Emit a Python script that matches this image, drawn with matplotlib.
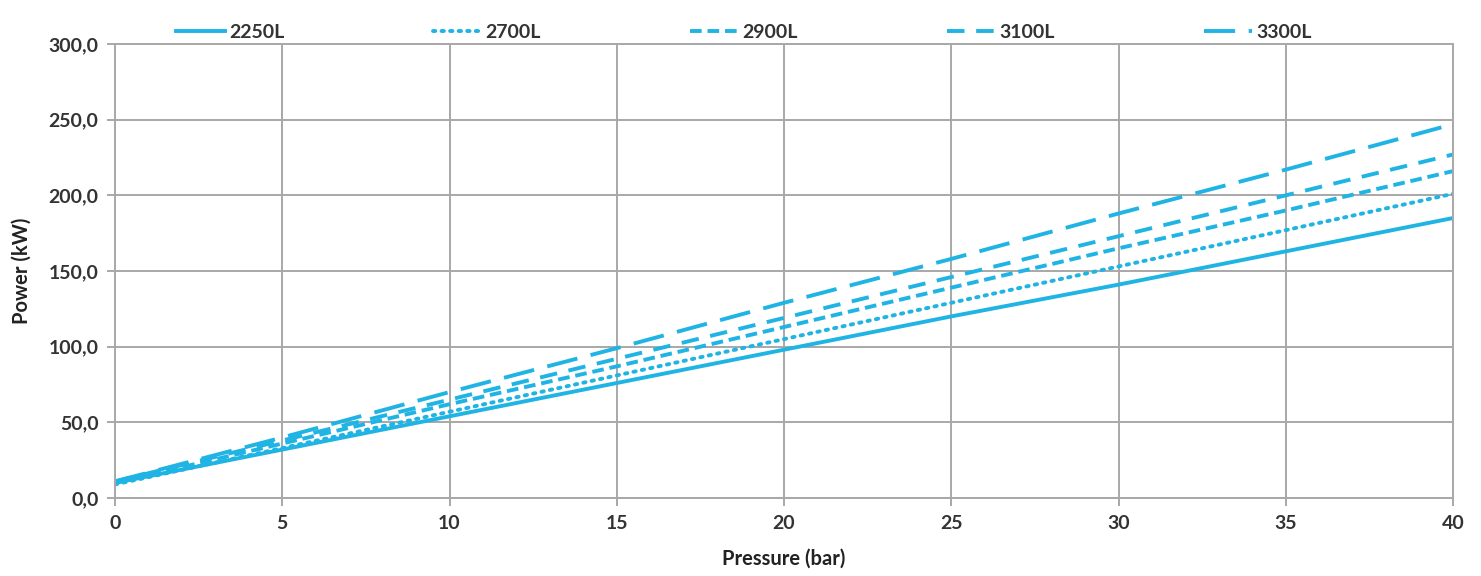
import numpy as np
import matplotlib.pyplot as plt
from matplotlib.ticker import FuncFormatter

# Datos (kW vs bar)
pressure = [0, 5, 10, 15, 20, 25, 30, 35, 40]
p_2250 = [10, 32, 54, 76, 98, 120, 141, 163, 185]
p_2700 = [9, 33, 57, 81, 105, 129, 153, 177, 201]
p_2900 = [10, 36, 62, 87, 113, 139, 165, 190, 216]
p_3100 = [11, 38, 65, 92, 119, 146, 173, 200, 227]
p_3300 = [11, 40, 70, 99, 129, 158, 188, 217, 247]
labels = ['2250L', '2700L', '2900L', '3100L', '3300L']

color = '#1fb4e4'
grid_c = '#a8a8a8'
plt.rcParams['font.family'] = ['Lato', 'DejaVu Sans']

fig = plt.figure(figsize=(14.81, 5.76), dpi=100)
ax = fig.add_axes([0.0777, 0.1354, 0.9034, 0.7882])

series = [p_2250, p_2700, p_2900, p_3100, p_3300]
styles = ['-', (0, (0.6, 1.6)), (0, (3, 1.5)), (0, (4.5, 3)), (0, (8, 3.5))]
for vals, lab, ls in zip(series, labels, styles):
    ax.plot(pressure, vals, color=color, lw=2.8, linestyle=ls, label=lab,
            dash_capstyle='round' if lab == '2700L' else 'butt')

ax.set_xlim(0, 40)
ax.set_ylim(0, 300)
ax.set_xticks(np.arange(0, 41, 5))
ax.set_yticks(np.arange(0, 301, 50))
ax.yaxis.set_major_formatter(FuncFormatter(lambda v, p: f'{v:.1f}'.replace('.', ',')))
ax.grid(True, color=grid_c, lw=1.4)
ax.set_axisbelow(True)
for s in ax.spines.values():
    s.set_color(grid_c)
    s.set_linewidth(1.4)
ax.tick_params(length=6, width=1.4, color=grid_c, labelsize=14, pad=6,
               labelcolor='#333333')
for t in ax.get_xticklabels() + ax.get_yticklabels():
    t.set_fontweight('bold')

ax.set_xlabel('Pressure (bar)', fontsize=14.5, fontweight='bold', color='#222222', labelpad=12)
ax.set_ylabel('Power (kW)', fontsize=14.5, fontweight='bold', color='#222222', labelpad=12)

leg = ax.legend(loc='lower left', bbox_to_anchor=(0.04, 0.99, 0.86, 0.08), mode='expand',
                ncol=5, frameon=False, fontsize=14, handlelength=2.5, handletextpad=0.2,
                borderaxespad=0)
for t in leg.get_texts():
    t.set_fontweight('bold')
    t.set_color('#333333')

fig.savefig('out.png', dpi=100)
